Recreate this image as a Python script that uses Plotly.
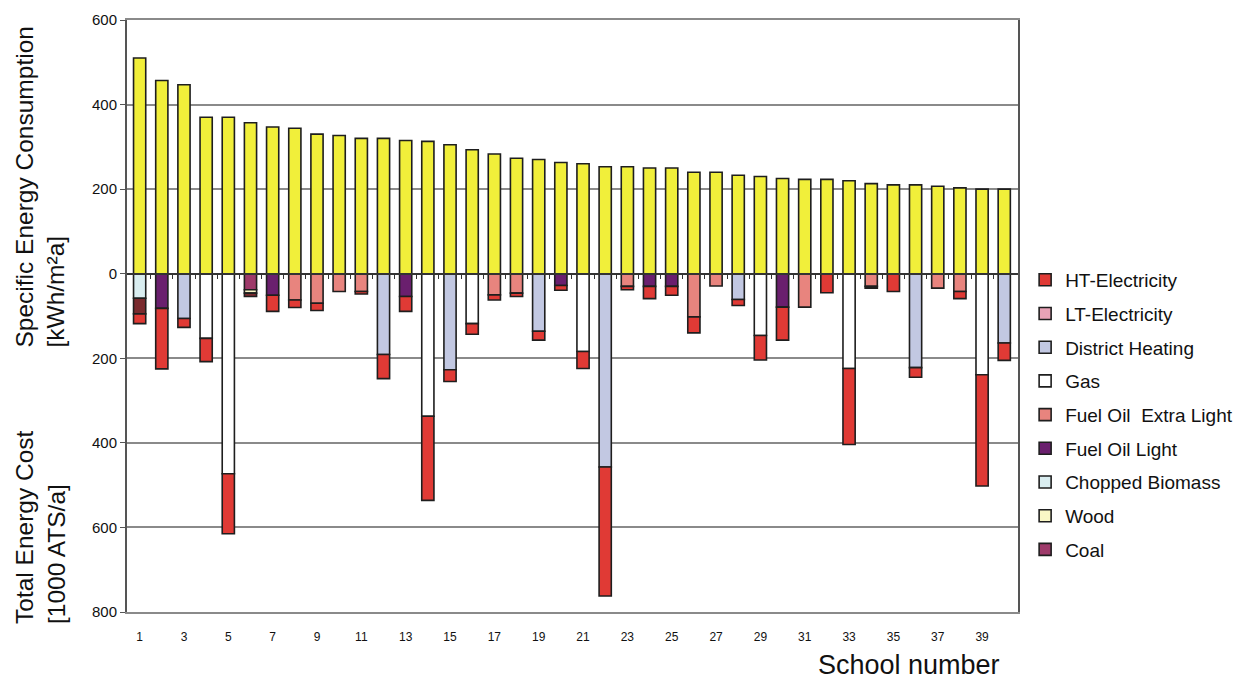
import plotly.graph_objects as go

schools = list(range(1, 41))

consumption = [510, 457, 447, 370, 370, 357, 347, 344, 330, 327,
               320, 320, 315, 313, 305, 293, 283, 273, 270, 263,
               260, 253, 253, 250, 250, 240, 240, 233, 230, 225,
               223, 223, 220, 213, 210, 210, 207, 203, 200, 200]

# cost components (1000 ATS/a), drawn downward
coal      = [0, 0, 0, 0, 0, 38, 0, 0, 0, 0,  0, 0, 0, 0, 0, 0, 0, 0, 0, 0,  0, 0, 0, 0, 0, 0, 0, 0, 0, 0,  0, 0, 0, 0, 0, 0, 0, 0, 0, 0]
wood      = [0, 0, 0, 0, 0, 8, 0, 0, 0, 0,   0, 0, 0, 0, 0, 0, 0, 0, 0, 0,  0, 0, 0, 0, 0, 0, 0, 0, 0, 0,  0, 0, 0, 0, 0, 0, 0, 0, 0, 0]
chopped   = [58, 0, 0, 0, 0, 0, 0, 0, 0, 0,  0, 0, 0, 0, 0, 0, 0, 0, 0, 0,  0, 0, 0, 0, 0, 0, 0, 0, 0, 0,  0, 0, 0, 0, 0, 0, 0, 0, 0, 0]
other     = [37, 0, 0, 0, 0, 8, 0, 0, 0, 0,  0, 0, 0, 0, 0, 0, 0, 0, 0, 0,  0, 0, 0, 0, 0, 0, 0, 0, 0, 0,  0, 0, 0, 0, 0, 0, 0, 0, 0, 0]
fo_light  = [0, 82, 0, 0, 0, 0, 51, 0, 0, 0, 0, 0, 54, 0, 0, 0, 0, 0, 0, 28, 0, 0, 0, 30, 30, 0, 0, 0, 0, 79, 0, 0, 0, 0, 0, 0, 0, 0, 0, 0]
fo_xlight = [0, 0, 0, 0, 0, 0, 0, 62, 70, 42, 42, 0, 0, 0, 0, 0, 50, 46, 0, 0, 0, 0, 30, 0, 0, 102, 29, 0, 0, 0, 79, 0, 0, 30, 0, 0, 34, 42, 0, 0]
gas       = [0, 0, 0, 153, 473, 0, 0, 0, 0, 0, 0, 0, 0, 337, 0, 118, 0, 0, 0, 0, 184, 0, 0, 0, 0, 0, 0, 0, 146, 0, 0, 0, 224, 0, 0, 0, 0, 0, 239, 0]
district  = [0, 0, 106, 0, 0, 0, 0, 0, 0, 0, 0, 191, 0, 0, 227, 0, 0, 0, 136, 0, 0, 457, 0, 0, 0, 0, 0, 61, 0, 0, 0, 0, 0, 0, 0, 222, 0, 0, 0, 164]
lt_elec   = [0] * 40
ht_elec   = [23, 143, 21, 55, 142, 0, 38, 18, 17, 0, 6, 57, 35, 199, 28, 25, 12, 8, 21, 11, 40, 305, 8, 29, 21, 38, 0, 14, 58, 78, 0, 45, 180, 4, 42, 23, 0, 17, 263, 41]

tick_schools = list(range(1, 40, 2))
y_ticks = [-800, -600, -400, -200, 0, 200, 400, 600]
y_labels = ["800", "600", "400", "200", "0", "200", "400", "600"]

series = [
    ("Coal", coal, "#9e3a6a", True),
    ("Wood", wood, "#faf7c6", True),
    ("Chopped Biomass", chopped, "#d9edf0", True),
    ("Other", other, "#7a2a2e", False),
    ("Fuel Oil Light", fo_light, "#6a1f6e", True),
    ("Fuel Oil  Extra Light", fo_xlight, "#e8847e", True),
    ("Gas", gas, "#ffffff", True),
    ("District Heating", district, "#c2c8e2", True),
    ("LT-Electricity", lt_elec, "#e8a2b6", True),
    ("HT-Electricity", ht_elec, "#e03a35", True),
]

FONT = "Liberation Sans, Arial, sans-serif"
BARW = 0.55
LINE = dict(color="#1e1e1e", width=1.6)
XRANGE = [0.43, 40.62]

fig = go.Figure()
n = len(series)
for i, (name, vals, col, show) in enumerate(series):
    fig.add_trace(go.Bar(
        x=schools, y=[-v for v in vals], name=name, width=BARW,
        marker=dict(color=col, line=LINE),
        showlegend=show, legendgroup="g%d" % i, legendrank=100 + (n - i),
        xaxis="x", yaxis="y",
    ))

fig.add_trace(go.Bar(
    x=schools, y=consumption, name="Specific Energy Consumption", width=BARW,
    marker=dict(color="#f1ef3a", line=LINE), showlegend=False,
    xaxis="x2", yaxis="y",
))

zero_pos = 800 / 1400

# the page body adds an 8px offset; margins compensate so the plot area
# sits at x 127..1018, y 20..612 on screen
fig.update_layout(
    width=1250, height=682,
    margin=dict(l=119, r=240, t=12, b=78, autoexpand=False),
    paper_bgcolor="white", plot_bgcolor="white",
    barmode="relative",
    font=dict(family=FONT, color="#111"),
    xaxis=dict(
        range=XRANGE, tickmode="array", tickvals=tick_schools,
        ticktext=[str(t) for t in tick_schools], automargin=False,
        tickfont=dict(family=FONT, size=12, color="#111"),
        ticks="outside", ticklen=13, tickcolor="rgba(0,0,0,0)",
        showgrid=False, zeroline=False,
        showline=True, linecolor="#8a8a8a", linewidth=2, mirror=True,
    ),
    xaxis2=dict(
        range=XRANGE, overlaying="x", anchor="free", position=zero_pos,
        tickmode="array", tickvals=[s + 0.5 for s in schools[:-1]],
        showticklabels=False, ticks="outside", ticklen=5, tickwidth=1,
        tickcolor="#333", showgrid=False, zeroline=False, automargin=False,
        showline=True, linecolor="#333", linewidth=1.5,
    ),
    yaxis=dict(
        range=[-800, 600], tickmode="array", tickvals=y_ticks, ticktext=y_labels,
        tickfont=dict(family=FONT, size=15, color="#111"), automargin=False,
        ticks="outside", ticklen=5, tickcolor="#555",
        showgrid=True, gridcolor="#8a8a8a", gridwidth=1.5, zeroline=False,
        showline=True, linecolor="#555", linewidth=2, mirror=True,
    ),
    legend=dict(
        x=1.008, y=0.593, xanchor="left", yanchor="top",
        traceorder="grouped", tracegroupgap=6,
        font=dict(family=FONT, size=19, color="#111"),
        bgcolor="rgba(0,0,0,0)", itemwidth=30,
    ),
    annotations=[
        dict(text="Specific Energy Consumption<br>[kWh/m²a]", textangle=-90,
             xref="paper", yref="paper", x=(40 - 127) / 891, y=(612 - 350) / 592,
             xanchor="center", yanchor="bottom", align="left", showarrow=False,
             font=dict(family=FONT, size=24.5, color="#111")),
        dict(text="Total Energy Cost<br>[1000 ATS/a]", textangle=-90,
             xref="paper", yref="paper", x=(40 - 127) / 891, y=(612 - 626) / 592,
             xanchor="center", yanchor="bottom", align="left", showarrow=False,
             font=dict(family=FONT, size=24.5, color="#111")),
        dict(text="School number", xref="paper", yref="paper",
             x=(1002 - 127) / 891, y=(612 - 682) / 592, xanchor="right", yanchor="bottom",
             showarrow=False, font=dict(family=FONT, size=27, color="#111")),
    ],
)

fig.write_html("out.html")
